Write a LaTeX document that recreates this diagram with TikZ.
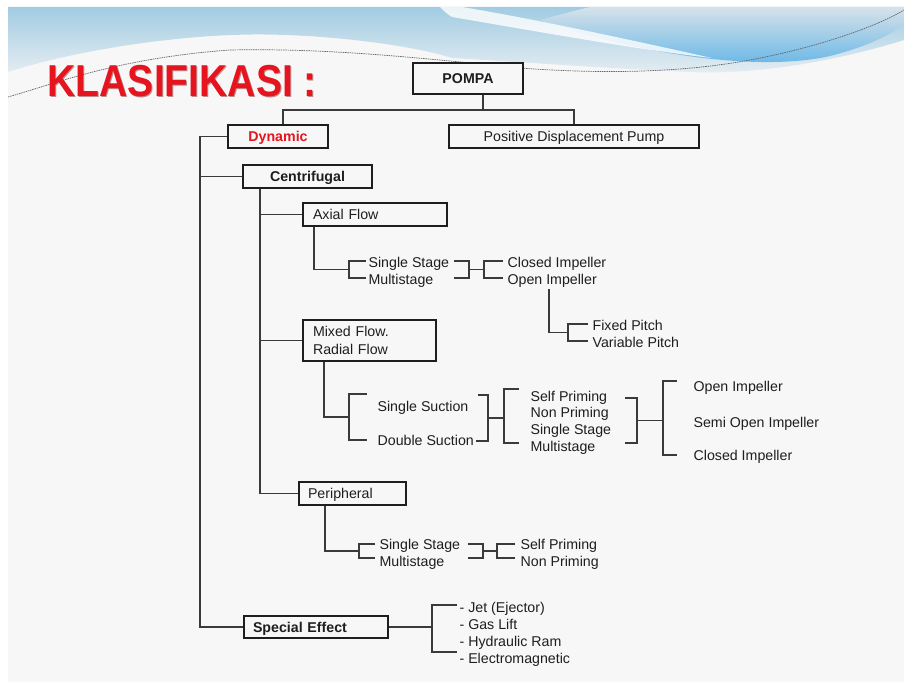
\documentclass[tikz,border=0pt]{standalone}
\usepackage{fontspec}
\setmainfont{Liberation Sans}
\usepackage{graphicx}
\usetikzlibrary{positioning}

\definecolor{slidebg}{HTML}{F7F7F7}
\definecolor{skyblue}{HTML}{A2CBE2}
\definecolor{skyfade}{HTML}{E6EEF2}
\definecolor{deepsky}{HTML}{5CB2E6}
\definecolor{paleblue}{HTML}{D6E2EA}
\definecolor{titlered}{HTML}{E6141E}
\definecolor{titleshade}{HTML}{7A1212}
\definecolor{linegray}{HTML}{3A3A3A}
\definecolor{textblack}{HTML}{1E1E1E}

\tikzset{every picture/.style={line width=1.2pt}}
\tikzset{
  box/.style={draw=textblack, fill=slidebg, line width=1.4pt, inner sep=0pt, text height=10.2pt, text depth=0pt, font=\fontsize{14.2}{17}\selectfont, text=textblack},
  mbox/.style={draw=textblack, fill=slidebg, line width=1.4pt, inner ysep=0pt, font=\fontsize{14.2}{18}\selectfont, text=textblack},
  lbl/.style={anchor=west, inner sep=0pt, text height=10.2pt, text depth=0pt, font=\fontsize{14.2}{17}\selectfont, text=textblack},
  conn/.style={draw=linegray, line width=1.2pt},
  titlefont/.style={anchor=base west, inner sep=0pt, font=\fontsize{44.7}{50}\selectfont\bfseries},
}

\begin{document}
\begin{tikzpicture}[x=1pt,y=-1pt]
\useasboundingbox (0,0) rectangle (904,682);

% slide background
\fill[white] (0,0) rectangle (904,682);
\fill[slidebg] (8,7) rectangle (904,682);
\shade[top color=skyblue, bottom color=skyfade] (8,7) -- (904,7) -- (904,40) .. controls (840,60) and (760,75) .. (690,72) .. controls (600,68) and (520,62) .. (452,58) .. controls (400,42) and (300,32) .. (233,35) .. controls (150,38) and (60,55) .. (8,72) -- cycle;
\shade[top color=paleblue, bottom color=deepsky] (540,20) .. controls (640,55) and (760,72) .. (830,56) .. controls (870,46) and (895,32) .. (904,24) -- (904,7) -- (590,7) .. controls (570,12) .. (540,20) -- cycle;
\fill[white, opacity=0.8] (440,7) -- (462,7) .. controls (540,20) and (640,42) .. (712,58) .. controls (640,50) and (540,32) .. (452,17) .. controls (446,13) .. (440,7) -- cycle;
\draw[line width=0.7pt, draw=black!60, dash pattern=on 1.5pt off 0.8pt] (8,97) .. controls (60,82) and (120,58) .. (230,50) .. controls (330,48) and (420,58) .. (520,68) .. controls (600,74) and (680,73) .. (750,60) .. controls (820,47) and (880,25) .. (904,10);

% title
\node[titlefont, text=titleshade, opacity=0.45] (titleshadow) at (48,98) {\scalebox{0.875}[1]{KLASIFIKASI :}};
\node[titlefont, text=titlered] (title) at (47,97) {\scalebox{0.875}[1]{KLASIFIKASI :}};

% boxes
\node[box, minimum width=110, minimum height=31, font=\fontsize{14.2}{17}\selectfont\bfseries] (pompa) at (468,78.5) {POMPA};
\node[box, minimum width=100, minimum height=23, font=\fontsize{14.2}{17}\selectfont\bfseries, text=titlered] (dynamic) at (278,136.5) {Dynamic};
\node[box, minimum width=250, minimum height=23] (pdp) at (574,136.5) {Positive Displacement Pump};
\node[box, minimum width=129, minimum height=23, font=\fontsize{14.2}{17}\selectfont\bfseries] (centri) at (307.5,176.5) {Centrifugal};
\node[box, minimum height=23, text width=124, align=left, inner xsep=10pt] (axial) at (375,214.5) {Axial Flow};
\node[mbox, minimum height=41, text width=113, align=left, inner xsep=10pt] (mixed) at (369.5,340.5) {Mixed Flow.\\Radial Flow};
\node[box, minimum height=23, text width=89, align=left, inner xsep=9pt] (peri) at (352.5,493.5) {Peripheral};
\node[box, minimum height=22, text width=126, align=left, inner xsep=9pt, font=\fontsize{14.2}{17}\selectfont\bfseries] (special) at (316,627) {Special Effect};

% top connectors
\coordinate (pj) at (483,110);
\coordinate (tl) at (283,110);
\draw[conn] (pompa.south -| pj) -- (pj);
\draw[conn] (dynamic.north -| tl) -- (tl) -- (pdp.north |- tl) -- (pdp.north);

% main spine
\coordinate (spa) at (200,0);
\draw[conn] (dynamic.west) -- (dynamic.west -| spa) |- (special.west);
\draw[conn] (centri.west) -- (centri.west -| spa);

% centrifugal spine
\coordinate (spb) at (260,0);
\draw[conn] (centri.south -| spb) |- (peri.west);
\draw[conn] (axial.west) -- (axial.west -| spb);
\draw[conn] (mixed.west) -- (mixed.west -| spb);

% axial flow
\node[lbl] (axss) at (368,262) {Single Stage};
\node[lbl] (axms) at (368,279) {Multistage};
\node[lbl] (axci) at (507,262) {Closed Impeller};
\node[lbl] (axoi) at (507,279) {Open Impeller};
\node[lbl] (axfp) at (592,325) {Fixed Pitch};
\node[lbl] (axvp) at (592,342) {Variable Pitch};
\coordinate (axd) at (314,0);
\coordinate (brA) at (349,269.5);
\coordinate (brB) at (469,269.5);
\coordinate (brC) at (484,269.5);
\coordinate (pd) at (549,289);
\coordinate (brD) at (568,332.5);
\draw[conn] (axial.south -| axd) |- (brA);
\draw[conn] (brA) ++(17,-8.5) -- ++(-17,0) -- ++(0,17) -- ++(17,0);
\draw[conn] (brB) ++(-15,-8.5) -- ++(15,0) -- ++(0,17) -- ++(-15,0);
\draw[conn] (brB) -- (brC);
\draw[conn] (brC) ++(19,-8.5) -- ++(-19,0) -- ++(0,17) -- ++(19,0);
\draw[conn] (pd) |- (brD);
\draw[conn] (brD) ++(20,-8.5) -- ++(-20,0) -- ++(0,17) -- ++(20,0);

% mixed / radial flow
\node[lbl] (mxss) at (377,406) {Single Suction};
\node[lbl] (mxds) at (377,440) {Double Suction};
\node[lbl] (mxsp) at (530,396) {Self Priming};
\node[lbl] (mxnp) at (530,412.7) {Non Priming};
\node[lbl] (mxst) at (530,429.3) {Single Stage};
\node[lbl] (mxms) at (530,446) {Multistage};
\node[lbl] (mxoi) at (693,386) {Open Impeller};
\node[lbl] (mxso) at (693,422) {Semi Open Impeller};
\node[lbl] (mxci) at (693,455) {Closed Impeller};
\coordinate (mxd) at (324,0);
\coordinate (brE) at (349,417);
\coordinate (brF) at (488,418);
\coordinate (brG) at (504,416);
\coordinate (brH) at (637,420.5);
\coordinate (brI) at (663,418);
\draw[conn] (mixed.south -| mxd) |- (brE);
\draw[conn] (brE) ++(18,-23) -- ++(-18,0) -- ++(0,46) -- ++(18,0);
\draw[conn] (brF) ++(-10,-23) -- ++(10,0) -- ++(0,46) -- ++(-12,0);
\draw[conn] (brF) -- (brF -| brG);
\draw[conn] (brG) ++(15,-27) -- ++(-15,0) -- ++(0,54) -- ++(15,0);
\draw[conn] (brH) ++(-12,-22.5) -- ++(12,0) -- ++(0,45) -- ++(-12,0);
\draw[conn] (brH) -- (brH -| brI);
\draw[conn] (brI) ++(14,-37) -- ++(-14,0) -- ++(0,74) -- ++(14,0);

% peripheral
\node[lbl] (prss) at (379,544) {Single Stage};
\node[lbl] (prms) at (379,561) {Multistage};
\node[lbl] (prsp) at (520,544) {Self Priming};
\node[lbl] (prnp) at (520,561) {Non Priming};
\coordinate (prd) at (325,0);
\coordinate (brJ) at (359,551);
\coordinate (brK) at (483,551);
\coordinate (brL) at (497,551);
\draw[conn] (peri.south -| prd) |- (brJ);
\draw[conn] (brJ) ++(16,-7) -- ++(-16,0) -- ++(0,14) -- ++(16,0);
\draw[conn] (brK) ++(-15,-7) -- ++(15,0) -- ++(0,14) -- ++(-15,0);
\draw[conn] (brK) -- (brL);
\draw[conn] (brL) ++(18,-7) -- ++(-18,0) -- ++(0,14) -- ++(18,0);

% special effect
\node[lbl] (sejt) at (459,607) {- Jet (Ejector)};
\node[lbl] (segl) at (459,624.5) {- Gas Lift};
\node[lbl] (sehr) at (459,641.5) {- Hydraulic Ram};
\node[lbl] (seem) at (459,658) {- Electromagnetic};
\coordinate (brM) at (432,628.5);
\draw[conn] (special.east) -- (special.east -| brM);
\draw[conn] (brM) ++(25,-23.5) -- ++(-25,0) -- ++(0,47) -- ++(25,0);

\end{tikzpicture}
\end{document}
